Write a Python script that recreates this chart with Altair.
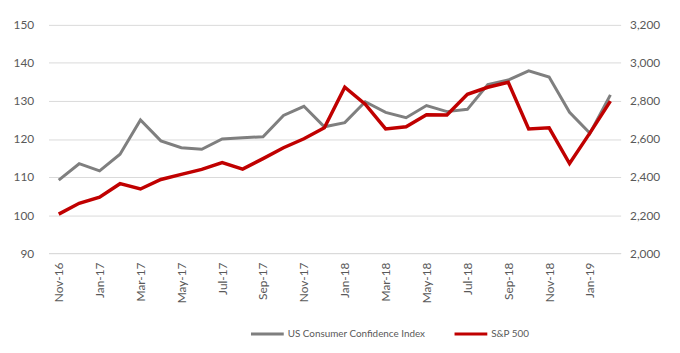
import altair as alt
import pandas as pd

months = ["Nov-16", "Dec-16", "Jan-17", "Feb-17", "Mar-17", "Apr-17", "May-17",
          "Jun-17", "Jul-17", "Aug-17", "Sep-17", "Oct-17", "Nov-17", "Dec-17",
          "Jan-18", "Feb-18", "Mar-18", "Apr-18", "May-18", "Jun-18", "Jul-18",
          "Aug-18", "Sep-18", "Oct-18", "Nov-18", "Dec-18", "Jan-19", "Feb-19"]

confidence = [109.2, 113.5, 111.6, 116.0, 125.0, 119.5, 117.7, 117.3, 120.0, 120.3,
              120.6, 126.2, 128.6, 123.2, 124.3, 129.8, 127.0, 125.6, 128.8, 127.2,
              127.8, 134.3, 135.5, 137.9, 136.3, 127.0, 121.5, 131.6]

sp500 = [2205, 2262, 2294, 2365, 2337, 2387, 2414, 2440, 2476, 2442,
         2497, 2554, 2601, 2659, 2872, 2783, 2653, 2664, 2728, 2726,
         2835, 2872, 2898, 2653, 2659, 2471, 2632, 2799]

series_names = ["US Consumer Confidence Index", "S&P 500"]
series_colors = ["#7f7f7f", "#c00000"]

df = pd.DataFrame({"month": months, "confidence": confidence, "sp500": sp500})

x = alt.X("month:O", sort=months,
          axis=alt.Axis(values=months[::2], labelAngle=270, title=None, ticks=False,
                        domainColor="#d9d9d9", labelPadding=9, grid=False,
                        labelFontSize=12))

color_scale = alt.Scale(domain=series_names, range=series_colors)
legend = alt.Legend(title=None, orient="none", direction="horizontal",
                    legendX=203, legendY=294, symbolType="stroke",
                    symbolStrokeWidth=3, symbolSize=1100, columnPadding=22,
                    labelOffset=2, labelFont="Lato", labelFontSize=10,
                    labelColor="#595959")

left = alt.Chart(df).transform_calculate(
    series="'" + series_names[0] + "'"
).mark_line(strokeWidth=3).encode(
    x=x,
    y=alt.Y("confidence:Q", scale=alt.Scale(domain=[90, 150], nice=False, zero=False),
            axis=alt.Axis(values=list(range(90, 151, 10)), title=None, ticks=False,
                          domain=False, labelPadding=15, gridColor="#d9d9d9")),
    color=alt.Color("series:N", scale=color_scale, legend=legend),
)

right = alt.Chart(df).transform_calculate(
    series="'" + series_names[1] + "'"
).mark_line(strokeWidth=3.5).encode(
    x=x,
    y=alt.Y("sp500:Q", scale=alt.Scale(domain=[2000, 3200], nice=False, zero=False),
            axis=alt.Axis(orient="right", values=list(range(2000, 3201, 200)),
                          format=",.0f", title=None, ticks=False, domain=False,
                          grid=False, labelPadding=9)),
    color=alt.Color("series:N", scale=color_scale, legend=legend),
)

chart = alt.layer(left, right).resolve_scale(y="independent").properties(
    width=579, height=231,
    autosize=alt.AutoSizeParams(type="none"),
    padding={"left": 41, "top": 15, "right": 52, "bottom": 98},
).configure_view(stroke=None).configure_axis(
    labelFont="Lato", labelFontSize=12, labelColor="#595959"
)

chart.save("out.html", embed_options={"renderer": "svg", "actions": False})
